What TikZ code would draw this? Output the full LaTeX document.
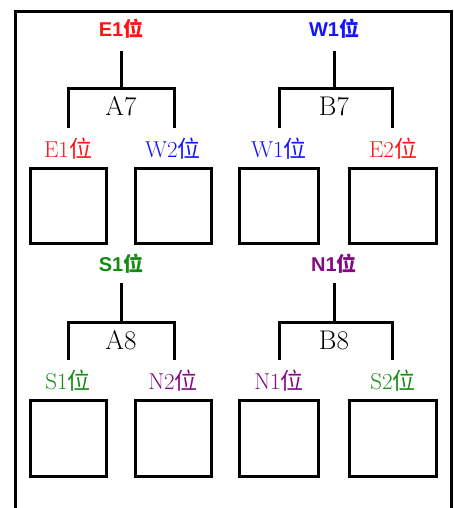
\documentclass[tikz,border=0pt]{standalone}
\usepackage{fontspec}
\setsansfont{Liberation Sans}
\newfontfamily\cjk{Noto Sans CJK SC}
\newcommand{\wei}{{\cjk 位}}

\definecolor{posred}{RGB}{255,20,20}
\definecolor{posblue}{RGB}{20,20,255}
\definecolor{posgreen}{RGB}{20,140,20}
\definecolor{pospurple}{RGB}{130,10,130}

\begin{document}
\begin{tikzpicture}[x=1pt, y=-1pt, line width=3pt,
    seat/.style = {inner sep=0pt, font=\sffamily\bfseries\fontsize{20}{20}\selectfont},
    slot/.style = {inner sep=0pt, font=\fontsize{23}{23}\selectfont},
    match/.style = {inner sep=0pt, font=\fontsize{27}{27}\selectfont},
    cell/.style = {draw, inner sep=0pt, minimum height=75pt}]
    \useasboundingbox (0,0) rectangle (453,508);

    % outer frame
    \draw (15,508) -- (15,12) -- (451,12) -- (451,508);

    % A7
    \node[seat, text=posred] (a7top) at (121,29) {E1\wei};
    \coordinate (a7t) at (121,51);
    \coordinate (a7j) at (121,89);
    \coordinate (a7l) at (68,128);
    \coordinate (a7r) at (174,128);
    \draw (a7t) -- (a7j);
    \draw (a7l) |- (a7j) -| (a7r);
    \node[match] (a7) at (121,106.5) {A7};
    \node[slot, text=posred] (a7la) at (68,149) {E1\wei};
    \node[slot, text=posblue] (a7lb) at (173,149) {W2\wei};
    \node[cell, minimum width=76pt] (a7a) at (68,205.5) {};
    \node[cell, minimum width=76pt] (a7b) at (173,205.5) {};

    % B7
    \node[seat, text=posblue] (b7top) at (334,29) {W1\wei};
    \coordinate (b7t) at (334,51);
    \coordinate (b7j) at (334,89);
    \coordinate (b7l) at (279,128);
    \coordinate (b7r) at (392,128);
    \draw (b7t) -- (b7j);
    \draw (b7l) |- (b7j) -| (b7r);
    \node[match] (b7) at (334,106.5) {B7};
    \node[slot, text=posblue] (b7la) at (279,149) {W1\wei};
    \node[slot, text=posred] (b7lb) at (393,149) {E2\wei};
    \node[cell, minimum width=79pt] (b7a) at (278.5,205.5) {};
    \node[cell, minimum width=87pt] (b7b) at (393.3,205.5) {};

    % A8
    \node[seat, text=posgreen] (a8top) at (121,264) {S1\wei};
    \coordinate (a8t) at (121,283);
    \coordinate (a8j) at (121,322);
    \coordinate (a8l) at (68,360);
    \coordinate (a8r) at (174,360);
    \draw (a8t) -- (a8j);
    \draw (a8l) |- (a8j) -| (a8r);
    \node[match] (a8) at (121,340.5) {A8};
    \node[slot, text=posgreen] (a8la) at (68,381) {S1\wei};
    \node[slot, text=pospurple] (a8lb) at (173,381) {N2\wei};
    \node[cell, minimum width=76pt, minimum height=76pt] (a8a) at (68,438.8) {};
    \node[cell, minimum width=76pt, minimum height=76pt] (a8b) at (173,438.8) {};

    % B8
    \node[seat, text=pospurple] (b8top) at (334,264) {N1\wei};
    \coordinate (b8t) at (334,283);
    \coordinate (b8j) at (334,322);
    \coordinate (b8l) at (279,360);
    \coordinate (b8r) at (392,360);
    \draw (b8t) -- (b8j);
    \draw (b8l) |- (b8j) -| (b8r);
    \node[match] (b8) at (334,340.5) {B8};
    \node[slot, text=pospurple] (b8la) at (279,381) {N1\wei};
    \node[slot, text=posgreen] (b8lb) at (393,381) {S2\wei};
    \node[cell, minimum width=79pt, minimum height=76pt] (b8a) at (278.5,438.8) {};
    \node[cell, minimum width=87pt, minimum height=76pt] (b8b) at (393.3,438.8) {};
\end{tikzpicture}
\end{document}
